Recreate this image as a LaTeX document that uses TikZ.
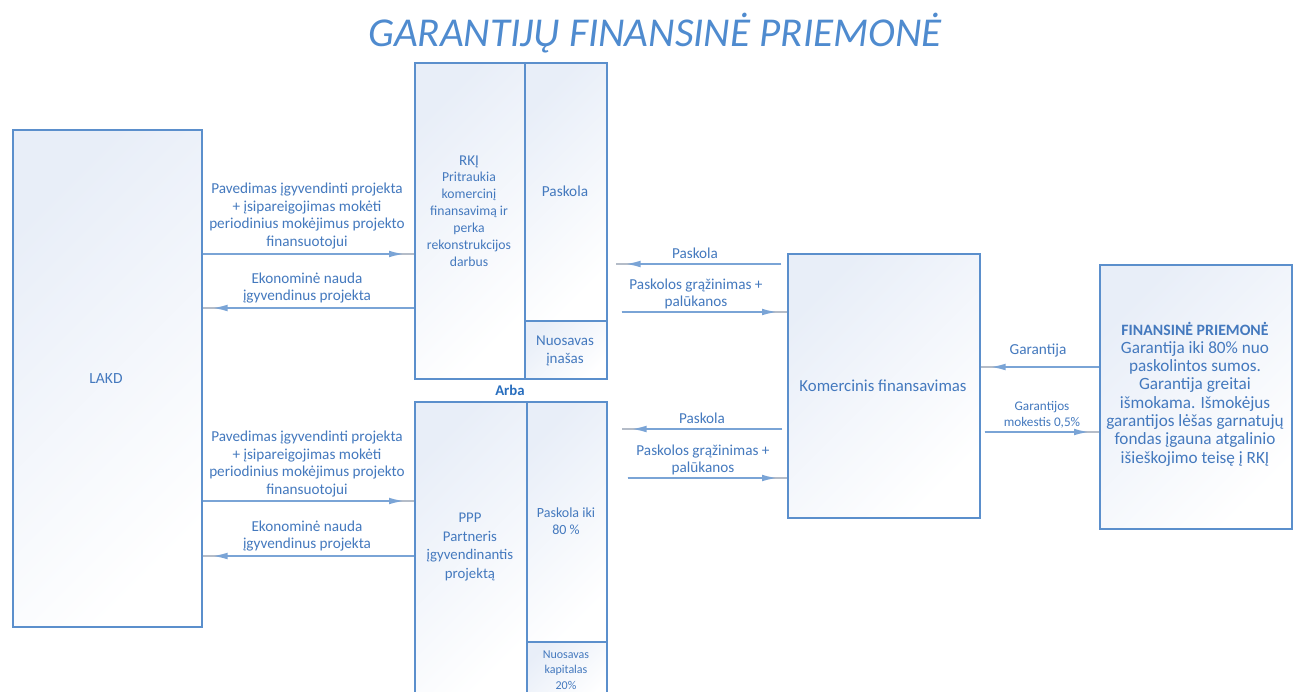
\documentclass[tikz,border=0pt]{standalone}
\usepackage{fontspec}
\setmainfont{Carlito}
\usetikzlibrary{arrows.meta}
\definecolor{bord}{RGB}{91,143,204}
\definecolor{txt}{RGB}{68,121,190}
\definecolor{ttl}{RGB}{79,139,207}
\definecolor{arba}{RGB}{40,110,190}
\definecolor{arr}{RGB}{122,164,214}
\definecolor{tail}{RGB}{180,188,200}
\definecolor{fillc}{RGB}{232,238,248}
\tikzset{
  box/.style={draw=bord, line width=1.5pt, shading=axis, left color=fillc, right color=white, shading angle=45, anchor=north west, inner sep=0pt},
  lbl/.style={text=txt, align=center, inner sep=0pt},
  arrw/.style={preaction={draw=tail, line width=1.3pt, arrows=-, shorten >=0pt}, draw=arr, line width=2.6pt, -{Latex[length=18pt,width=6.5pt]}, shorten >=7pt},
  f13/.style={font=\fontsize{15.2}{17.7}\selectfont},
}
\begin{document}
\begin{tikzpicture}[x=1pt,y=-1pt]
\useasboundingbox (0,0) rectangle (1297,691);
\fill[white] (0,0) rectangle (1297,691);
% title
\node[text=ttl, font=\fontsize{41}{44}\selectfont\itshape, inner sep=0pt] (title) at (655,33) {GARANTIJŲ FINANSINĖ PRIEMONĖ};
% boxes
\node[box, minimum width=189pt, minimum height=497pt] (lakd) at (12,129) {};
\node[lbl, font=\fontsize{15.5}{18}\selectfont] (lakdt) at (106,379) {LAKD};
\node[box, minimum width=110pt, minimum height=316pt] (rkj) at (414,62) {};
\node[box, minimum width=82pt, minimum height=258pt] (rkjp) at (524,62) {};
\node[box, minimum width=82pt, minimum height=58pt] (rkjn) at (524,320) {};
\node[box, minimum width=112pt, minimum height=300pt] (ppp) at (414,401) {};
\node[box, minimum width=80pt, minimum height=240pt] (pppp) at (526,401) {};
\node[box, minimum width=80pt, minimum height=60pt] (pppn) at (526,641) {};
\node[box, minimum width=192pt, minimum height=264pt] (kom) at (787,253) {};
\node[box, minimum width=192pt, minimum height=264pt] (fin) at (1099,264) {};
% box texts
\node[lbl, font=\fontsize{13.7}{16.9}\selectfont] (rkjt) at (469,211) {{\fontsize{15}{17}\selectfont RKĮ}\\Pritraukia\\komercinį\\finansavimą ir\\perka\\rekonstrukcijos\\darbus};
\node[lbl, font=\fontsize{15.3}{18}\selectfont] (rkjpt) at (565,191) {Paskola};
\node[lbl, font=\fontsize{15}{18}\selectfont] (rkjnt) at (565,351) {Nuosavas\\įnašas};
\node[text=arba, font=\fontsize{14.8}{16}\selectfont\bfseries, inner sep=0pt] (arbat) at (510,390) {Arba};
\node[lbl, font=\fontsize{14.8}{18.6}\selectfont] (pppt) at (470,547) {PPP\\Partneris\\įgyvendinantis\\projektą};
\node[lbl, font=\fontsize{14}{17}\selectfont] (ppppt) at (566,521) {Paskola iki\\80 \%};
\node[lbl, font=\fontsize{12}{15.5}\selectfont] (pppnt) at (566,670) {Nuosavas\\kapitalas\\20\%};
\node[lbl, font=\fontsize{16.8}{19}\selectfont] (komt) at (883,386) {Komercinis finansavimas};
\node[lbl, font=\fontsize{17.2}{18.3}\selectfont] (fint) at (1195,394) {{\bfseries\fontsize{15.8}{18}\selectfont FINANSINĖ PRIEMONĖ}\\Garantija iki 80\% nuo\\paskolintos sumos.\\Garantija greitai\\išmokama. Išmokėjus\\garantijos lėšas garnatujų\\fondas įgauna atgalinio\\išieškojimo teisę į RKĮ};
% arrows LAKD - RKJ
\draw[arrw] (lakd.east |- 0,254) -- (rkj.west |- 0,254);
\draw[arrw] (rkj.west |- 0,308) -- (lakd.east |- 0,308);
\node[lbl, f13] (t1) at (307,216) {Pavedimas įgyvendinti projekta\\+ įsipareigojimas mokėti\\periodinius mokėjimus projekto\\finansuotojui};
\node[lbl, f13] (t2) at (307,288) {Ekonominė nauda\\įgyvendinus projekta};
% arrows LAKD - PPP
\draw[arrw] (lakd.east |- 0,501) -- (ppp.west |- 0,501);
\draw[arrw] (ppp.west |- 0,556) -- (lakd.east |- 0,556);
\node[lbl, f13] (t3) at (307,464) {Pavedimas įgyvendinti projekta\\+ įsipareigojimas mokėti\\periodinius mokėjimus projekto\\finansuotojui};
\node[lbl, f13] (t4) at (307,536) {Ekonominė nauda\\įgyvendinus projekta};
% arrows RKJ - Kom
\draw[arrw] ([xshift=-6pt]kom.west |- 0,264) -- ([xshift=8pt]rkjp.east |- 0,264);
\draw[arrw] ([xshift=14pt]rkjp.east |- 0,312) -- (kom.west |- 0,312);
\node[lbl, f13] (t5) at (695,253) {Paskola};
\node[lbl, f13] (t6) at (696,294) {Paskolos grąžinimas +\\palūkanos};
% arrows PPP - Kom
\draw[arrw] ([xshift=-5pt]kom.west |- 0,429) -- ([xshift=14pt]pppp.east |- 0,429);
\draw[arrw] ([xshift=20pt]pppp.east |- 0,478) -- (kom.west |- 0,478);
\node[lbl, f13] (t7) at (702,418) {Paskola};
\node[lbl, f13] (t8) at (703,460) {Paskolos grąžinimas +\\palūkanos};
% arrows Kom - Fin
\draw[arrw] (fin.west |- 0,367) -- (kom.east |- 0,367);
\draw[arrw] ([xshift=4pt]kom.east |- 0,432) -- (fin.west |- 0,432);
\node[lbl, font=\fontsize{15.3}{17}\selectfont] (t9) at (1038,351) {Garantija};
\node[lbl, font=\fontsize{13.2}{15.5}\selectfont] (t10) at (1042,415) {Garantijos\\mokestis 0,5\%};
\end{tikzpicture}
\end{document}
